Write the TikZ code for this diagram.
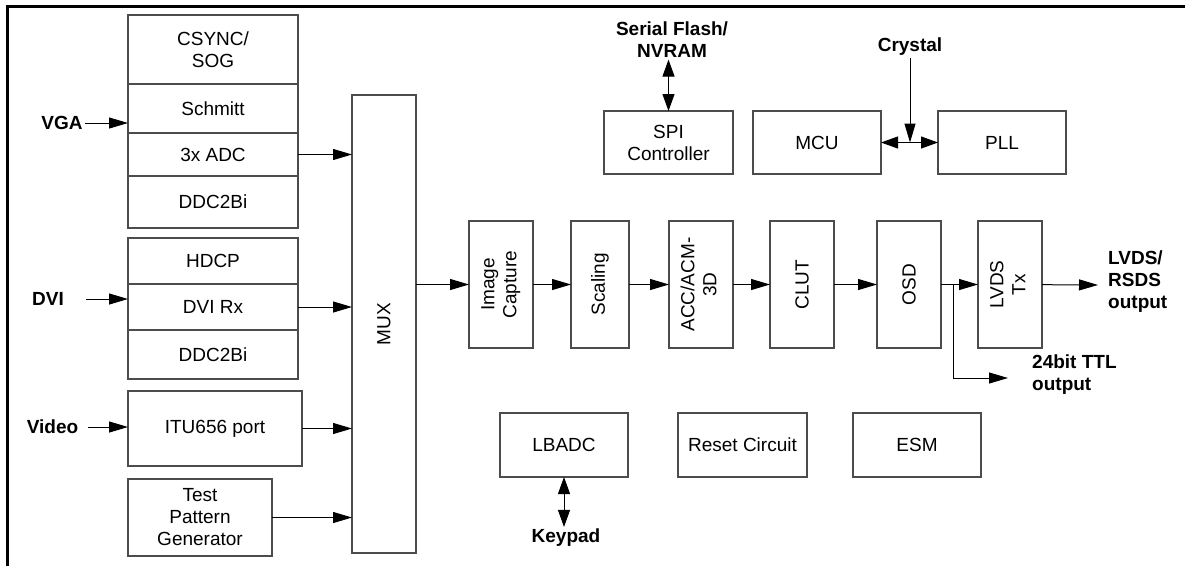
\documentclass[tikz,border=0pt]{standalone}
\usepackage{fontspec}
\setmainfont{Liberation Sans}
\usepackage{graphicx}
\usetikzlibrary{positioning,arrows.meta}

\begin{document}
\begin{tikzpicture}[x=1pt,y=-1pt,
        every node/.append style={font=\fontsize{19}{22}\selectfont},
        blk/.style={rectangle, draw=black!70, line width=1.2pt, inner sep=0pt, outer sep=0pt, align=center},
        lbl/.style={font=\fontsize{19}{22}\selectfont\bfseries, align=center, inner sep=2pt},
        arr/.style={-{Triangle[length=19pt,width=11pt]}, line width=1pt},
        dblarr/.style={{Triangle[length=17pt,width=12pt]}-{Triangle[length=17pt,width=12pt]}, line width=1pt}]
        \useasboundingbox (0,0) rectangle (1185,566);
        %% Frame
        \draw[line width=3pt] (7.5,566) -- (7.5,6) -- (1185,6);

        %% VGA input
        \node[blk, minimum width=170pt, minimum height=69pt] (csync) at (213,49.5) {CSYNC/\\SOG};
        \node[blk, minimum width=170pt, minimum height=49pt, below=0pt of csync] (schmitt) {Schmitt};
        \node[blk, minimum width=170pt, minimum height=43pt, below=0pt of schmitt] (adc) {3x ADC};
        \node[blk, minimum width=170pt, minimum height=52pt, below=0pt of adc] (ddca) {DDC2Bi};
        \node[lbl] (vga) at (62,123) {VGA};

        %% DVI input
        \node[blk, minimum width=170pt, minimum height=46pt] (hdcp) at (213,261) {HDCP};
        \node[blk, minimum width=170pt, minimum height=46pt, below=0pt of hdcp] (dvirx) {DVI Rx};
        \node[blk, minimum width=170pt, minimum height=49pt, below=0pt of dvirx] (ddcb) {DDC2Bi};
        \node[lbl] (dvi) at (48,299) {DVI};

        %% Video, test pattern
        \node[blk, minimum width=174pt, minimum height=75pt] (itu) at (215,428.5) {ITU656 port};
        \node[lbl] (video) at (52.5,427) {Video};
        \node[blk, minimum width=144pt, minimum height=77pt] (tpg) at (200,517.5) {Test\\Pattern\\Generator};

        %% MUX
        \node[blk, minimum width=64pt, minimum height=458pt] (mux) at (384,324) {\rotatebox{90}{MUX}};

        \draw[arr] (vga) -- (vga -| schmitt.west);
        \draw[arr] ([xshift=20pt]dvi.east) -- (dvi.east -| dvirx.west);
        \draw[arr] ([xshift=8pt]video.east) -- (video.east -| itu.west);
        \draw[arr] (adc.east) -- (adc.east -| mux.west);
        \draw[arr] (dvirx.east) -- (dvirx.east -| mux.west);
        \draw[arr] (itu.east) -- (itu.east -| mux.west);
        \draw[arr] (tpg.east) -- (tpg.east -| mux.west);

        %% Pipeline
        \node[blk, minimum width=64pt, minimum height=127pt] (cap) at (501,284.5) {\rotatebox{90}{\begin{tabular}{@{}c@{}}Image\\Capture\end{tabular}}};
        \node[blk, minimum width=58pt, minimum height=127pt, right=38pt of cap] (scal) {\rotatebox{90}{Scaling}};
        \node[blk, minimum width=64pt, minimum height=127pt, right=40pt of scal] (acc) {\rotatebox{90}{\begin{tabular}{@{}c@{}}ACC/ACM-\\3D\end{tabular}}};
        \node[blk, minimum width=64pt, minimum height=127pt, right=37pt of acc] (clut) {\rotatebox{90}{CLUT}};
        \node[blk, minimum width=64pt, minimum height=127pt, right=43pt of clut] (osd) {\rotatebox{90}{OSD}};
        \node[blk, minimum width=64pt, minimum height=127pt, right=37pt of osd] (lvds) {\rotatebox{90}{\begin{tabular}{@{}c@{}}LVDS\\Tx\end{tabular}}};

        \node[lbl, anchor=west, align=left] (lvdsout) at (1106,282) {LVDS/\\RSDS\\output};
        \node[lbl, anchor=west, align=left] (ttl) at (1030,374.5) {24bit TTL\\output};
        \coordinate (br) at (953,285);
        \coordinate (ttlend) at (1008,378);
        \coordinate (lvdsend) at (1098,285);

        \draw[arr] (mux.east |- cap.west) -- (cap.west);
        \draw[arr] (cap) -- (scal);
        \draw[arr] (scal) -- (acc);
        \draw[arr] (acc) -- (clut);
        \draw[arr] (clut) -- (osd);
        \draw[arr] (osd) -- (lvds);
        \draw[arr] (br) |- (ttlend);
        \draw[arr] (lvds) -- (lvdsend);

        %% Control blocks
        \node[blk, minimum width=129pt, minimum height=63pt] (spi) at (668.5,142.5) {SPI\\Controller};
        \node[blk, minimum width=128pt, minimum height=63pt, right=20pt of spi] (mcu) {MCU};
        \node[blk, minimum width=128pt, minimum height=63pt, right=57pt of mcu] (pll) {PLL};
        \node[lbl] (flash) at (672,39.5) {Serial Flash/\\NVRAM};
        \node[lbl] (crystal) at (910,47) {Crystal};

        \draw[dblarr] (flash.south -| spi.north) -- (spi.north);
        \draw[dblarr] (mcu) -- (pll);
        \draw[arr] (crystal) -- (crystal |- mcu.east);

        \node[blk, minimum width=128pt, minimum height=64pt] (lbadc) at (564,445) {LBADC};
        \node[blk, minimum width=129pt, minimum height=64pt, right=50pt of lbadc] (reset) {Reset Circuit};
        \node[blk, minimum width=128pt, minimum height=64pt, right=46pt of reset] (esm) {ESM};
        \node[lbl] (keypad) at (566,538) {Keypad};

        \draw[dblarr] (lbadc) -- (lbadc |- keypad.north);
\end{tikzpicture}
\end{document}
